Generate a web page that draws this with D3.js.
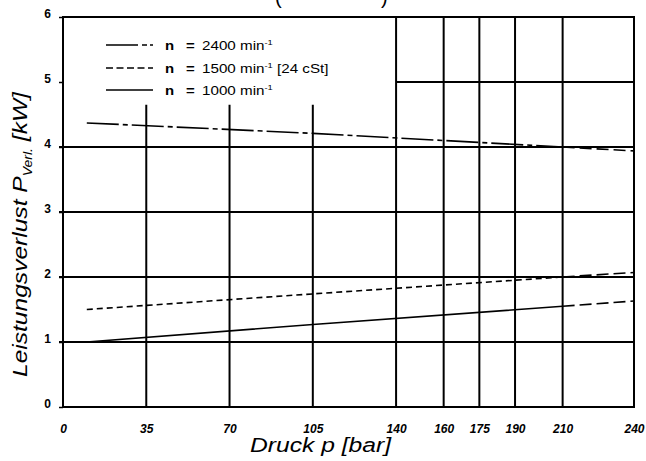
<!DOCTYPE html>
<html>
<head>
<meta charset="utf-8">
<script src="https://cdn.jsdelivr.net/npm/d3@7"></script>
<style>
  body { margin: 0; background: #fff; }
  svg { display: block; font-family: "Liberation Sans", Arial, sans-serif; }
</style>
</head>
<body>
<script>
var svgW = 646;
var svgH = 461;

var margin = { top: 17, right: 12, bottom: 54, left: 63 };

var chartWidth = svgW - margin.left - margin.right;
var chartHeight = svgH - margin.top - margin.bottom;

// data
var xTicks = [0, 35, 70, 105, 140, 160, 175, 190, 210, 240];
var yTicks = [0, 1, 2, 3, 4, 5, 6];
var pressure = [10, 105, 210, 240];
var p2400 = [4.37, 4.21, 4.00, 3.94];
var p1500 = [1.50, 1.74, 2.00, 2.07];
var p1000 = [1.00, 1.27, 1.55, 1.63];
var seriesNames = ["2400 min", "1500 min", "1000 min"];
var seriesExtra = ["", " [24 cSt]", ""];
var seriesDash = ["32,4,5,4", "6,4", null];
var legendDash = ["32,4,5,3,4", "7,3.5", null];

var svg = d3.select("body")
  .append("svg")
  .attr("width", svgW)
  .attr("height", svgH);

var g = svg.append("g")
  .attr("transform", "translate(" + margin.left + "," + margin.top + ")");

var xScale = d3.scaleLinear().domain([0, 240]).range([0, chartWidth]);
var yScale = d3.scaleLinear().domain([0, 6]).range([chartHeight, 0]);

// grid - the upper left corner is kept free for the legend
var hLines = [
  { y: 1, x0: 0, x1: 240 }, { y: 2, x0: 0, x1: 240 },
  { y: 3, x0: 0, x1: 240 }, { y: 4, x0: 0, x1: 240 },
  { y: 5, x0: 140, x1: 240 }
];
g.selectAll(".hgrid")
  .data(hLines)
  .enter()
  .append("line")
    .attr("x1", function (d) { return xScale(d.x0) - (d.x0 === 0 ? 4 : 0) })
    .attr("x2", function (d) { return xScale(d.x1) })
    .attr("y1", function (d) { return yScale(d.y) })
    .attr("y2", function (d) { return yScale(d.y) })
    .attr("stroke", "#000")
    .attr("stroke-width", 2);

g.selectAll(".vgrid")
  .data(xTicks.slice(1, -1))
  .enter()
  .append("line")
    .attr("x1", function (d) { return xScale(d) })
    .attr("x2", function (d) { return xScale(d) })
    .attr("y1", chartHeight)
    .attr("y2", function (d) { return yScale(d < 140 ? 4.65 : 6) })
    .attr("stroke", "#000")
    .attr("stroke-width", 2);

// axes
var xAxis = d3.axisBottom(xScale).tickValues(xTicks).tickSize(0).tickPadding(17);
var yAxis = d3.axisLeft(yScale).tickValues(yTicks).tickFormat(d3.format("d"))
  .tickSize(4).tickPadding(8);

var gx = g.append("g")
  .attr("transform", "translate(0," + chartHeight + ")")
  .call(xAxis);
gx.select(".domain").remove();
gx.selectAll("text")
  .attr("font-family", "Liberation Sans, Arial, sans-serif")
  .attr("font-size", 12)
  .attr("font-weight", "bold")
  .attr("font-style", "italic")
  .attr("fill", "#000");

var gy = g.append("g").call(yAxis);
gy.select(".domain").remove();
gy.selectAll("line").attr("stroke-width", 1.5);
gy.selectAll("text")
  .attr("dy", "0.05em")
  .attr("font-family", "Liberation Sans, Arial, sans-serif")
  .attr("font-size", 12)
  .attr("font-weight", "bold")
  .attr("fill", "#000");

// frame
g.append("rect")
  .attr("x", 0)
  .attr("y", 0)
  .attr("width", chartWidth)
  .attr("height", chartHeight)
  .attr("fill", "none")
  .attr("stroke", "#000")
  .attr("stroke-width", 2);

// curves: measured part up to 210 bar, long dashes beyond
var series = [p2400, p1500, p1000];
var line = d3.line()
  .x(function (d) { return xScale(d[0]) })
  .y(function (d) { return yScale(d[1]) });

series.forEach(function (vals, i) {
  var pts = pressure.map(function (p, j) { return [p, vals[j]] });
  g.append("path")
    .attr("d", line(pts.slice(0, 3)))
    .attr("fill", "none")
    .attr("stroke", "#000")
    .attr("stroke-width", 1.6)
    .attr("stroke-dasharray", seriesDash[i]);
  g.append("path")
    .attr("d", line(pts.slice(2)))
    .attr("fill", "none")
    .attr("stroke", "#000")
    .attr("stroke-width", 1.6)
    .attr("stroke-dasharray", "12,5");
});

// legend
var legY = [45, 68, 90];
seriesNames.forEach(function (name, i) {
  svg.append("line")
    .attr("x1", 106)
    .attr("x2", 153)
    .attr("y1", legY[i])
    .attr("y2", legY[i])
    .attr("stroke", "#000")
    .attr("stroke-width", 1.6)
    .attr("stroke-dasharray", legendDash[i]);

  svg.append("text")
    .attr("transform", "translate(165," + (legY[i] + 5) + ") scale(1.15,1)")
    .attr("font-size", 13)
    .attr("font-weight", "bold")
    .text("n");
  svg.append("text")
    .attr("transform", "translate(186," + (legY[i] + 5) + ") scale(1.15,1)")
    .attr("font-size", 13)
    .attr("font-weight", "bold")
    .text("=");
  var t = svg.append("text")
    .attr("transform", "translate(202," + (legY[i] + 5) + ") scale(1.17,1)")
    .attr("font-size", 13);
  t.append("tspan").text(name);
  t.append("tspan").attr("font-size", 8).attr("dy", -5).text("-1");
  t.append("tspan").attr("dy", 5).text(seriesExtra[i]);
});

// axis titles
svg.append("text")
  .attr("x", 250)
  .attr("y", 452)
  .attr("font-size", 20)
  .attr("font-style", "italic")
  .attr("textLength", 141)
  .attr("lengthAdjust", "spacingAndGlyphs")
  .text("Druck p [bar]");

var yt = svg.append("text")
  .attr("transform", "translate(27,377) rotate(-90) scale(1.17,1)")
  .attr("font-size", 21)
  .attr("font-style", "italic");
yt.append("tspan").text("Leistungsverlust P");
yt.append("tspan").attr("font-size", 12).attr("dy", 5).text("Verl.");
yt.append("tspan").attr("dy", -5).text(" [kW]");

// title, cut off by the top edge
svg.append("text")
  .attr("x", 275)
  .attr("y", 4)
  .attr("font-size", 20)
  .text("(");
svg.append("text")
  .attr("x", 381)
  .attr("y", 4)
  .attr("font-size", 20)
  .text(")");
</script>
</body>
</html>
